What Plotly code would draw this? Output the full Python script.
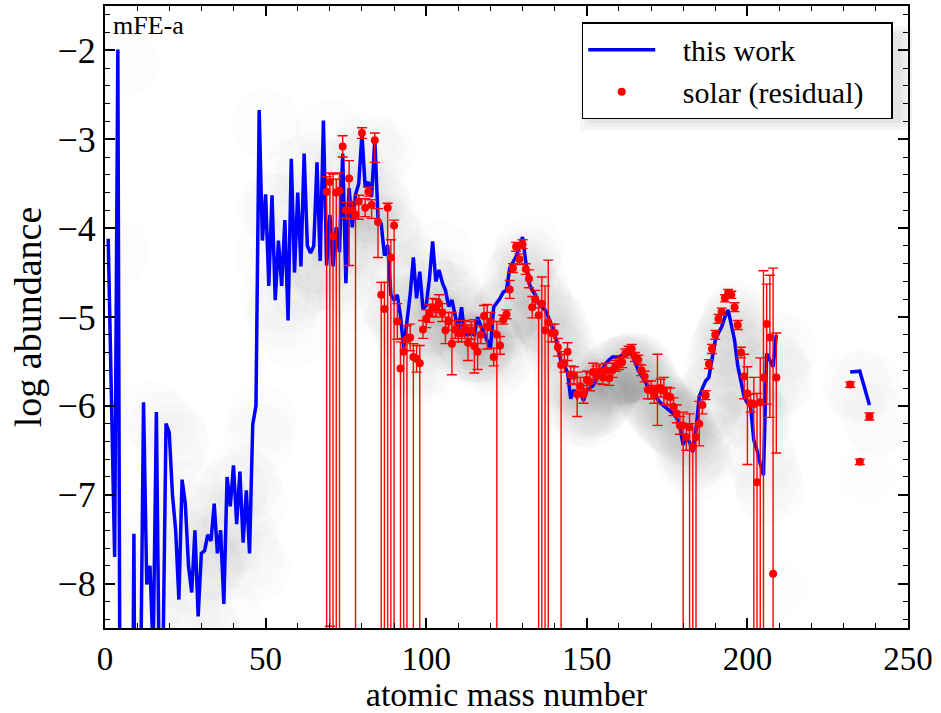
import plotly.graph_objects as go

# model abundances ("this work"), log of abundance vs mass number
model_A = [1, 3, 4, 6, 9, 10, 11, 12, 13, 14, 15, 16, 17, 18, 19, 20,
           21, 22, 23, 24, 25, 26, 27, 28, 29, 30, 31, 32, 33, 34, 35, 36,
           37, 38, 39, 40, 41, 42, 43, 44, 45, 46, 47, 48, 49, 50, 51, 52,
           53, 54, 55, 56, 57, 58, 59, 60, 61, 62, 63, 64, 65, 66, 67, 68,
           69, 70, 71, 72, 73, 74, 75, 76, 77, 78, 79, 80, 81, 82, 83, 84,
           85, 86, 87, 88, 89, 90, 91, 92, 93, 94, 95, 96, 97, 98, 99, 100,
           101, 102, 103, 104, 105, 106, 107, 108, 109, 110, 111, 112, 113, 114, 115, 116,
           117, 118, 119, 120, 121, 122, 123, 124, 125, 126, 127, 128, 129, 130, 131, 132,
           133, 134, 135, 136, 137, 138, 139, 140, 141, 142, 143, 144, 145, 146, 147, 148,
           149, 150, 151, 152, 153, 154, 155, 156, 157, 158, 159, 160, 161, 162, 163, 164,
           165, 166, 167, 168, 169, 170, 171, 172, 173, 174, 175, 176, 177, 178, 179, 180,
           181, 182, 183, 184, 185, 186, 187, 188, 189, 190, 191, 192, 193, 194, 195, 196,
           197, 198, 199, 200, 201, 202, 203, 204, 205, 206, 207, 208, 209,
           None, 232, 235, 238]
model_logY = [-4.12, -7.70, -1.99, -25.0, -7.44, -15.0, -9.50, -5.96, -8.01, -7.80, -8.80, -6.07, -9.50, -9.00, -6.20, -6.30,
              -7.00, -7.40, -8.18, -6.83, -7.10, -7.80, -8.10, -7.40, -8.37, -7.66, -7.63, -7.45, -7.52, -7.10, -7.66, -7.40,
              -8.23, -6.80, -7.13, -6.67, -7.33, -6.74, -7.54, -6.95, -7.66, -6.21, -6.00, -2.67, -4.14, -3.62, -4.65, -3.63,
              -4.81, -4.14, -4.65, -3.91, -5.04, -3.22, -4.50, -3.60, -4.43, -3.16, -4.20, -4.28, -4.20, -3.26, -4.37, -2.79,
              -4.42, -3.85, -4.43, -3.99, -4.27, -3.16, -4.62, -3.55, -3.99, -3.62, -3.50, -2.94, -3.54, -3.48, -3.65, -3.00,
              -3.89, -3.95, -4.31, -4.19, -4.75, -4.81, -4.75, -4.99, -5.35, -5.03, -4.75, -4.33, -4.79, -4.49, -4.91, -4.87,
              -4.57, -4.15, -4.60, -4.47, -4.61, -4.70, -4.88, -4.81, -4.99, -5.15, -4.89, -5.20, -5.20, -5.18, -5.20, -5.00,
              -5.10, -5.18, -5.25, -5.35, -4.89, -4.84, -4.79, -4.72, -4.70, -4.45, -4.38, -4.32, -4.21, -4.10, -4.38, -4.62,
              -4.70, -4.75, -4.85, -4.89, -4.92, -5.00, -5.10, -5.20, -5.35, -5.50, -5.55, -5.62, -5.92, -5.82, -5.90, -5.85,
              -5.94, -5.82, -5.80, -5.77, -5.70, -5.64, -5.58, -5.52, -5.48, -5.45, -5.45, -5.45, -5.43, -5.41, -5.40, -5.43,
              -5.50, -5.60, -5.66, -5.72, -5.78, -5.84, -5.88, -5.93, -5.97, -6.00, -6.03, -6.06, -6.09, -6.14, -6.24, -6.44,
              -6.35, -6.41, -6.52, -6.27, -5.90, -5.80, -5.72, -5.68, -5.45, -5.26, -5.18, -5.11, -5.00, -4.92, -5.09, -5.26,
              -5.55, -5.72, -5.90, -5.97, -6.01, -6.39, -6.50, -6.65, -6.78, -5.41, -5.48, -5.56, -5.20,
              None, -5.62, -5.61, -5.99]

# solar r-process residuals with asymmetric errors (5.0 = lower error runs off the axis)
solar_A = [69, 70, 71, 72, 73, 74, 75, 76, 77, 78, 79, 80, 81, 82, 83, 84,
           85, 86, 87, 88, 89, 90, 91, 92, 93, 94, 95, 96, 97, 98, 99, 100,
           101, 102, 103, 104, 105, 106, 107, 108, 109, 110, 111, 112, 113, 114, 115, 116,
           117, 118, 119, 120, 121, 122, 123, 124, 125, 126, 127, 128, 129, 130, 131, 132,
           133, 134, 135, 136, 137, 138, 139, 140, 141, 142, 143, 144, 145, 146, 147, 148,
           149, 150, 151, 152, 153, 154, 155, 156, 157, 158, 159, 160, 161, 162, 163, 164,
           165, 166, 167, 168, 169, 170, 171, 172, 173, 174, 175, 176, 177, 178, 179, 180,
           181, 182, 183, 184, 185, 186, 187, 188, 189, 190, 191, 192, 193, 194, 195, 196,
           197, 198, 199, 200, 201, 202, 203, 204, 205, 206, 207, 208, 209, 232, 235, 238]
solar_logY = [-3.59, -3.48, -4.09, -3.60, -3.58, -3.08, -3.80, -3.44, -3.80, -3.85, -3.70, -2.93, -3.77, -3.59, -3.74, -3.01,
              -3.93, -4.75, -4.91, -3.77, -4.33, -3.97, -5.05, -5.58, -5.39, -5.25, -5.23, -5.45, -5.47, -5.52, -5.14, -5.02,
              -4.96, -4.89, -4.90, -4.85, -4.95, -5.15, -5.05, -5.30, -5.14, -5.18, -5.18, -5.14, -5.29, -5.15, -5.33, -5.39,
              -5.20, -4.99, -5.11, -5.05, -5.45, -5.20, -5.32, -5.03, -4.97, -4.69, -4.45, -4.21, -4.35, -4.18, -4.46, -4.57,
              -4.89, -4.80, -4.98, -4.85, -5.15, -5.06, -5.18, -5.18, -5.34, -5.54, -5.52, -5.39, -5.65, -5.66, -5.87, -5.78,
              -5.87, -5.71, -5.73, -5.62, -5.65, -5.61, -5.68, -5.60, -5.69, -5.60, -5.55, -5.53, -5.51, -5.41, -5.38, -5.36,
              -5.45, -5.48, -5.60, -5.67, -5.82, -5.82, -5.87, -5.82, -5.80, -5.83, -5.89, -5.90, -6.01, -6.09, -6.22, -6.22,
              -6.35, -6.24, -6.46, -6.35, -6.20, -5.99, -5.88, -5.53, -5.36, -5.20, -5.02, -4.94, -4.79, -4.73, -4.75, -4.89,
              -5.09, -5.40, -5.67, -5.86, -5.97, -5.98, -6.86, -5.96, -5.68, -5.08, -5.23, -7.89, -5.68, -5.76, -6.63, -6.12]
solar_err_plus = [0.17, 0.10, 0.70, 0.15, 0.20, 0.12, 0.09, 0.20, 0.10, 0.12, 0.07, 0.06, 0.10, 0.05, 0.06, 0.08,
                  0.15, 0.14, 0.30, 0.05, 0.20, 0.06, 0.20, 0.30, 0.15, 0.15, 0.15, 0.15, 0.15, 0.20, 0.10, 0.10,
                  0.10, 0.10, 0.10, 0.10, 0.10, 0.15, 0.10, 0.35, 0.10, 0.10, 0.10, 0.10, 0.20, 0.10, 0.30, 0.20,
                  0.10, 0.12, 0.25, 0.10, 0.10, 0.15, 0.10, 0.05, 0.05, 0.10, 0.05, 0.05, 0.06, 0.05, 0.06, 0.10,
                  0.12, 0.10, 0.15, 0.30, 0.50, 0.70, 0.10, 0.10, 0.10, 0.15, 0.10, 0.10, 0.10, 0.10, 0.25, 0.10,
                  0.10, 0.10, 0.10, 0.10, 0.10, 0.08, 0.08, 0.08, 0.08, 0.08, 0.06, 0.06, 0.06, 0.05, 0.05, 0.05,
                  0.05, 0.05, 0.06, 0.06, 0.10, 0.10, 0.10, 0.40, 0.10, 0.15, 0.10, 0.10, 0.10, 0.10, 0.10, 0.15,
                  0.15, 0.15, 0.20, 0.15, 0.25, 0.10, 0.05, 0.05, 0.05, 0.05, 0.05, 0.04, 0.04, 0.04, 0.04, 0.05,
                  0.05, 0.06, 0.25, 0.30, 0.10, 0.30, 1.00, 0.50, 1.20, 0.45, 0.70, 3.44, 0.50, 0.03, 0.03, 0.04]
solar_err_minus = [5.0, 5.0, 5.0, 5.0, 5.0, 0.12, 0.09, 0.98, 0.10, 5.0, 0.20, 0.06, 0.10, 0.05, 0.15, 0.25,
                   0.40, 5.0, 5.0, 5.0, 5.0, 5.0, 0.20, 5.0, 5.0, 5.0, 0.15, 5.0, 0.15, 5.0, 0.10, 0.10,
                   0.10, 0.10, 0.10, 0.10, 0.10, 0.15, 0.10, 0.35, 0.10, 0.10, 0.10, 0.10, 0.20, 0.10, 0.30, 0.20,
                   0.10, 0.12, 0.25, 0.10, 0.10, 5.0, 0.10, 0.05, 0.05, 0.10, 0.05, 0.05, 0.06, 0.05, 0.06, 0.10,
                   0.12, 0.10, 5.0, 5.0, 5.0, 5.0, 0.10, 0.10, 0.10, 5.0, 0.10, 0.10, 0.10, 0.10, 0.25, 0.10,
                   0.10, 0.10, 0.10, 0.10, 0.10, 0.08, 0.08, 0.08, 0.08, 0.08, 0.06, 0.06, 0.06, 0.05, 0.05, 0.05,
                   0.05, 0.05, 0.06, 0.06, 0.10, 0.10, 0.10, 0.40, 0.10, 0.15, 0.10, 0.10, 0.10, 0.10, 0.10, 5.0,
                   0.15, 5.0, 5.0, 5.0, 0.25, 0.10, 0.05, 0.05, 0.05, 0.05, 0.05, 0.04, 0.04, 0.04, 0.04, 0.05,
                   0.05, 0.06, 0.25, 0.80, 0.10, 5.0, 5.0, 5.0, 5.0, 0.90, 0.90, 5.0, 0.85, 0.03, 0.03, 0.04]

FONT = "Liberation Serif, Times New Roman, serif"
NBSP = "\u00a0"

fig = go.Figure()

# diffuse grey haze, standing in for the blurred drop shadow of the original
shadow_x = [a + 2.0 if a is not None else None for a in model_A]
shadow_y = [v - 0.15 if v is not None else None for v in model_logY]
fig.add_trace(go.Scatter(
    x=shadow_x, y=shadow_y, mode="markers",
    marker=dict(size=70, color="rgba(0,0,0,0.013)", line=dict(width=0)),
    hoverinfo="skip", showlegend=False))
fig.add_trace(go.Scatter(
    x=[a + 2.0 for a in solar_A], y=[v - 0.15 for v in solar_logY],
    mode="markers", marker=dict(size=56, color="rgba(0,0,0,0.008)", line=dict(width=0)),
    hoverinfo="skip", showlegend=False))

fig.add_trace(go.Scatter(
    x=model_A, y=model_logY, mode="lines",
    name=NBSP * 3 + "this work" + NBSP * 3,
    line=dict(color="#0000ff", width=3.5), connectgaps=False))

fig.add_trace(go.Scatter(
    x=solar_A, y=solar_logY, mode="markers",
    name=NBSP * 3 + "solar (residual)" + NBSP * 3,
    marker=dict(color="#ff0000", size=8),
    error_y=dict(type="data", symmetric=False, array=solar_err_plus,
                 arrayminus=solar_err_minus, color="#ff0000",
                 thickness=1.4, width=5)))

# legend drop shadow
for d in [0.0, 0.006, 0.012]:
    fig.add_shape(type="rect", xref="paper", yref="paper", layer="above",
                  x0=0.5915 + 0.012 - d, x1=0.981 + 0.012 + d,
                  y0=0.830 - 0.018 - d, y1=0.974 - 0.018 + d,
                  line=dict(width=0), fillcolor="rgba(0,0,0,0.035)")

fig.add_annotation(text="mFE-a", xref="paper", yref="paper", x=0.008, y=0.995,
                   xanchor="left", yanchor="top", showarrow=False,
                   font=dict(family=FONT, size=26, color="black"))

axis_common = dict(
    showgrid=False, zeroline=False, showline=True, linecolor="black", linewidth=2,
    mirror="allticks", ticks="inside", ticklen=10, tickwidth=1.5, tickcolor="black",
    automargin=False,
)

fig.update_xaxes(range=[0, 250], dtick=50, tick0=0,
                 tickfont=dict(family=FONT, size=33, color="black"),
                 minor=dict(dtick=10, ticks="inside", ticklen=5, tickcolor="black", tickwidth=1.2),
                 title=dict(text="atomic mass number", standoff=0,
                            font=dict(family=FONT, size=34, color="black")),
                 **axis_common)
fig.update_yaxes(range=[-8.5, -1.5], dtick=1, tick0=-8,
                 tickfont=dict(family=FONT, size=36, color="black"),
                 minor=dict(dtick=0.2, ticks="inside", ticklen=5, tickcolor="black", tickwidth=1.2),
                 title=dict(text="log abundance", standoff=4,
                            font=dict(family=FONT, size=38, color="black")),
                 **axis_common)

fig.update_layout(
    width=941, height=713,
    margin=dict(l=105, r=33, t=6, b=85),
    plot_bgcolor="white", paper_bgcolor="white",
    font=dict(family=FONT, color="black"),
    legend=dict(x=0.981, y=0.974, xanchor="right", yanchor="top",
                bgcolor="white", bordercolor="black", borderwidth=1.5,
                font=dict(family=FONT, size=30, color="black"),
                itemwidth=67, tracegroupgap=0),
)

# the page body keeps its default 8px margin otherwise
fig.write_html("out.html", config={"displayModeBar": False},
               post_script="document.body.style.margin='0';")
